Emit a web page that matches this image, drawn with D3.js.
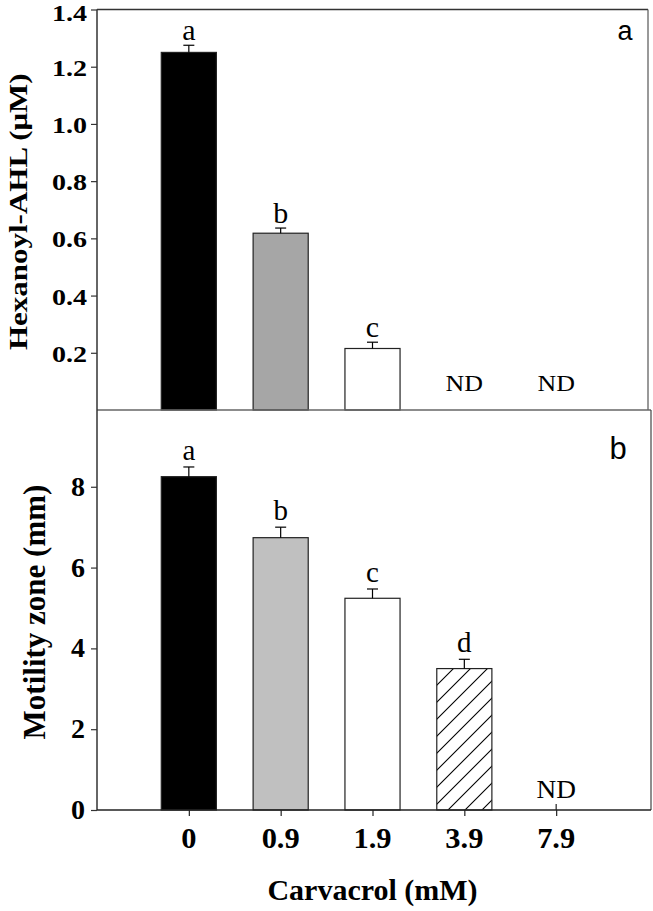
<!DOCTYPE html>
<html>
<head>
<meta charset="utf-8">
<script src="https://cdn.jsdelivr.net/npm/d3@7"></script>
<style>
  html, body { margin: 0; padding: 0; background: #fff; }
  svg { display: block; }
  text { font-family: "Liberation Serif", "Times New Roman", serif; }
</style>
</head>
<body>
<svg id="chart" width="653" height="911"></svg>
<script>
// ---------- data ----------
const categories = ["0", "0.9", "1.9", "3.9", "7.9"];

const ahlValues  = [1.25, 0.618, 0.215, null, null];
const ahlErrors  = [0.025, 0.018, 0.022, null, null];
const ahlLetters = ["a", "b", "c", "ND", "ND"];
const ahlTicks   = [0.2, 0.4, 0.6, 0.8, 1.0, 1.2, 1.4];

const motValues  = [8.25, 6.74, 5.24, 3.50, null];
const motErrors  = [0.24, 0.26, 0.23, 0.23, null];
const motLetters = ["a", "b", "c", "d", "ND"];
const motTicks   = [0, 2, 4, 6, 8];

const topFills    = ["#000000", "#a6a6a6", "#ffffff", "#ffffff", "#ffffff"];
const bottomFills = ["#000000", "#c0c0c0", "#ffffff", "url(#hatch)", "#ffffff"];

// ---------- layout ----------
const svg = d3.select("#chart");
const left = 97, right = 648, rightB = 651;
const topY0 = 9.5, topY1 = 410, botY1 = 810;

const x = d3.scaleLinear().domain([0, 6]).range([left, right]);
const barW = 0.6;

const yTop = d3.scaleLinear().domain([0, 1.4]).range([topY1, topY0]);
const yBot = d3.scaleLinear().domain([0, 9.9]).range([botY1, topY1]);

// hatch pattern
const defs = svg.append("defs");
const pat = defs.append("pattern")
  .attr("id", "hatch").attr("patternUnits", "userSpaceOnUse")
  .attr("width", 17).attr("height", 17);
pat.append("rect").attr("width", 17).attr("height", 17).attr("fill", "#fff");
pat.append("path").attr("d", "M0,17 L17,0 M-4,4 L4,-4 M13,21 L21,13")
  .attr("stroke", "#000").attr("stroke-width", 1.1);

function stretchedText(g, xPos, yPos, str, size, sx, opts = {}) {
  const t = g.append("text")
    .attr("transform", `translate(${xPos},${yPos})` + (opts.rotate ? ` rotate(${opts.rotate})` : "") + ` scale(${sx},1)`)
    .attr("text-anchor", opts.anchor || "middle")
    .attr("font-size", size)
    .attr("font-weight", opts.weight || "normal")
    .attr("fill", "#000")
    .text(str);
  if (opts.family) t.style("font-family", opts.family);
  return t;
}

const idx = categories.map((c, i) => i);

// ---------- TOP PANEL ----------
const gTop = svg.append("g");

gTop.append("line").attr("x1", left).attr("x2", right).attr("y1", topY0).attr("y2", topY0)
  .attr("stroke", "#333").attr("stroke-width", 1.5);
gTop.append("line").attr("x1", right).attr("x2", right).attr("y1", topY0).attr("y2", topY1)
  .attr("stroke", "#555").attr("stroke-width", 1.2);

gTop.selectAll("rect.bar").data(idx.filter(i => ahlValues[i] != null)).join("rect")
  .attr("class", "bar")
  .attr("x", i => x(i + 1 - barW / 2))
  .attr("width", i => x(i + 1 + barW / 2) - x(i + 1 - barW / 2))
  .attr("y", i => yTop(ahlValues[i]))
  .attr("height", i => yTop(0) - yTop(ahlValues[i]))
  .attr("fill", i => topFills[i])
  .attr("stroke", "#222").attr("stroke-width", 1.2);

const eTop = gTop.selectAll("g.err").data(idx.filter(i => ahlValues[i] != null)).join("g");
eTop.append("line")
  .attr("x1", i => x(i + 1)).attr("x2", i => x(i + 1))
  .attr("y1", i => yTop(ahlValues[i])).attr("y2", i => yTop(ahlValues[i] + ahlErrors[i]))
  .attr("stroke", "#000").attr("stroke-width", 1.2);
eTop.append("line")
  .attr("x1", i => x(i + 1) - 5.5).attr("x2", i => x(i + 1) + 5.5)
  .attr("y1", i => yTop(ahlValues[i] + ahlErrors[i])).attr("y2", i => yTop(ahlValues[i] + ahlErrors[i]))
  .attr("stroke", "#000").attr("stroke-width", 1.2);

idx.forEach(i => {
  if (ahlValues[i] != null) {
    stretchedText(gTop, x(i + 1), yTop(ahlValues[i] + ahlErrors[i]) - 5, ahlLetters[i], 30, 1.0);
  } else {
    stretchedText(gTop, x(i + 1), yTop(0) - 19, ahlLetters[i], 24, 1.08);
  }
});

gTop.append("line").attr("x1", left).attr("x2", rightB).attr("y1", topY1).attr("y2", topY1)
  .attr("stroke", "#666").attr("stroke-width", 1.5);

const axTop = gTop.append("g").attr("transform", `translate(${left},0)`)
  .call(d3.axisLeft(yTop).tickValues(ahlTicks).tickFormat(d3.format(".1f")).tickSize(6).tickPadding(5));
axTop.select(".domain").attr("d", `M0,${topY0}V${topY1}`).attr("stroke", "#333").attr("stroke-width", 1.5);
axTop.selectAll(".tick line").attr("stroke", "#333").attr("stroke-width", 1.2);
axTop.selectAll(".tick text").remove();
ahlTicks.forEach(v => {
  // keep the top label inside the page (reference shows it just below the edge)
  const yy = Math.max(yTop(v) + 9, 21);
  stretchedText(gTop, left - 10, yy, d3.format(".1f")(v), 23, 1.22, { anchor: "end", weight: "bold" });
});

stretchedText(gTop, 27, (topY0 + topY1) / 2 + 2, "Hexanoyl-AHL (μM)", 25, 1.24, { rotate: -90, weight: "bold" });

stretchedText(gTop, 625, 40, "a", 27, 1.0, { family: "'Liberation Sans', Arial, sans-serif" });

// ---------- BOTTOM PANEL ----------
const gBot = svg.append("g");

gBot.append("line").attr("x1", rightB).attr("x2", rightB).attr("y1", topY1).attr("y2", botY1)
  .attr("stroke", "#444").attr("stroke-width", 1.2);

gBot.selectAll("line.innerTick").data(idx).join("line")
  .attr("class", "innerTick")
  .attr("x1", i => x(i + 1)).attr("x2", i => x(i + 1))
  .attr("y1", botY1).attr("y2", botY1 - 6)
  .attr("stroke", "#222").attr("stroke-width", 1.2);

gBot.selectAll("rect.bar").data(idx.filter(i => motValues[i] != null)).join("rect")
  .attr("class", "bar")
  .attr("x", i => x(i + 1 - barW / 2))
  .attr("width", i => x(i + 1 + barW / 2) - x(i + 1 - barW / 2))
  .attr("y", i => yBot(motValues[i]))
  .attr("height", i => yBot(0) - yBot(motValues[i]))
  .attr("fill", i => bottomFills[i])
  .attr("stroke", "#222").attr("stroke-width", 1.2);

const eBot = gBot.selectAll("g.err").data(idx.filter(i => motValues[i] != null)).join("g");
eBot.append("line")
  .attr("x1", i => x(i + 1)).attr("x2", i => x(i + 1))
  .attr("y1", i => yBot(motValues[i])).attr("y2", i => yBot(motValues[i] + motErrors[i]))
  .attr("stroke", "#000").attr("stroke-width", 1.2);
eBot.append("line")
  .attr("x1", i => x(i + 1) - 5.5).attr("x2", i => x(i + 1) + 5.5)
  .attr("y1", i => yBot(motValues[i] + motErrors[i])).attr("y2", i => yBot(motValues[i] + motErrors[i]))
  .attr("stroke", "#000").attr("stroke-width", 1.2);

idx.forEach(i => {
  if (motValues[i] != null) {
    stretchedText(gBot, x(i + 1), yBot(motValues[i] + motErrors[i]) - 7, motLetters[i], 29, 1.0);
  } else {
    stretchedText(gBot, x(i + 1), yBot(0) - 12, motLetters[i], 26, 1.05);
  }
});

const axBot = gBot.append("g").attr("transform", `translate(${left},0)`)
  .call(d3.axisLeft(yBot).tickValues(motTicks).tickFormat(d3.format("d")).tickSize(6).tickPadding(5));
axBot.select(".domain").attr("d", `M0,${topY1}V${botY1}`).attr("stroke", "#333").attr("stroke-width", 1.5);
axBot.selectAll(".tick line").attr("stroke", "#333").attr("stroke-width", 1.2);
axBot.selectAll(".tick text").remove();
motTicks.forEach(v => {
  stretchedText(gBot, left - 12, yBot(v) + 9, String(v), 28, 1.0, { anchor: "end", weight: "bold" });
});

const axX = gBot.append("g").attr("transform", `translate(0,${botY1})`)
  .call(d3.axisBottom(x).tickValues(idx.map(i => i + 1)).tickSize(6).tickFormat(""));
axX.select(".domain").attr("d", `M${left},0H${rightB}`).attr("stroke", "#222").attr("stroke-width", 1.5);
axX.selectAll(".tick line").attr("stroke", "#222").attr("stroke-width", 1.2);
idx.forEach(i => {
  stretchedText(gBot, x(i + 1), 848, categories[i], 29, 1.05, { weight: "bold" });
});

stretchedText(gBot, 45, (topY1 + botY1) / 2 + 2, "Motility zone (mm)", 31, 1.0, { rotate: -90, weight: "bold" });
stretchedText(gBot, (left + right) / 2, 900, "Carvacrol (mM)", 30, 1.0, { weight: "bold" });

stretchedText(gBot, 618, 459, "b", 31, 1.0, { family: "'Liberation Sans', Arial, sans-serif" });
</script>
</body>
</html>
